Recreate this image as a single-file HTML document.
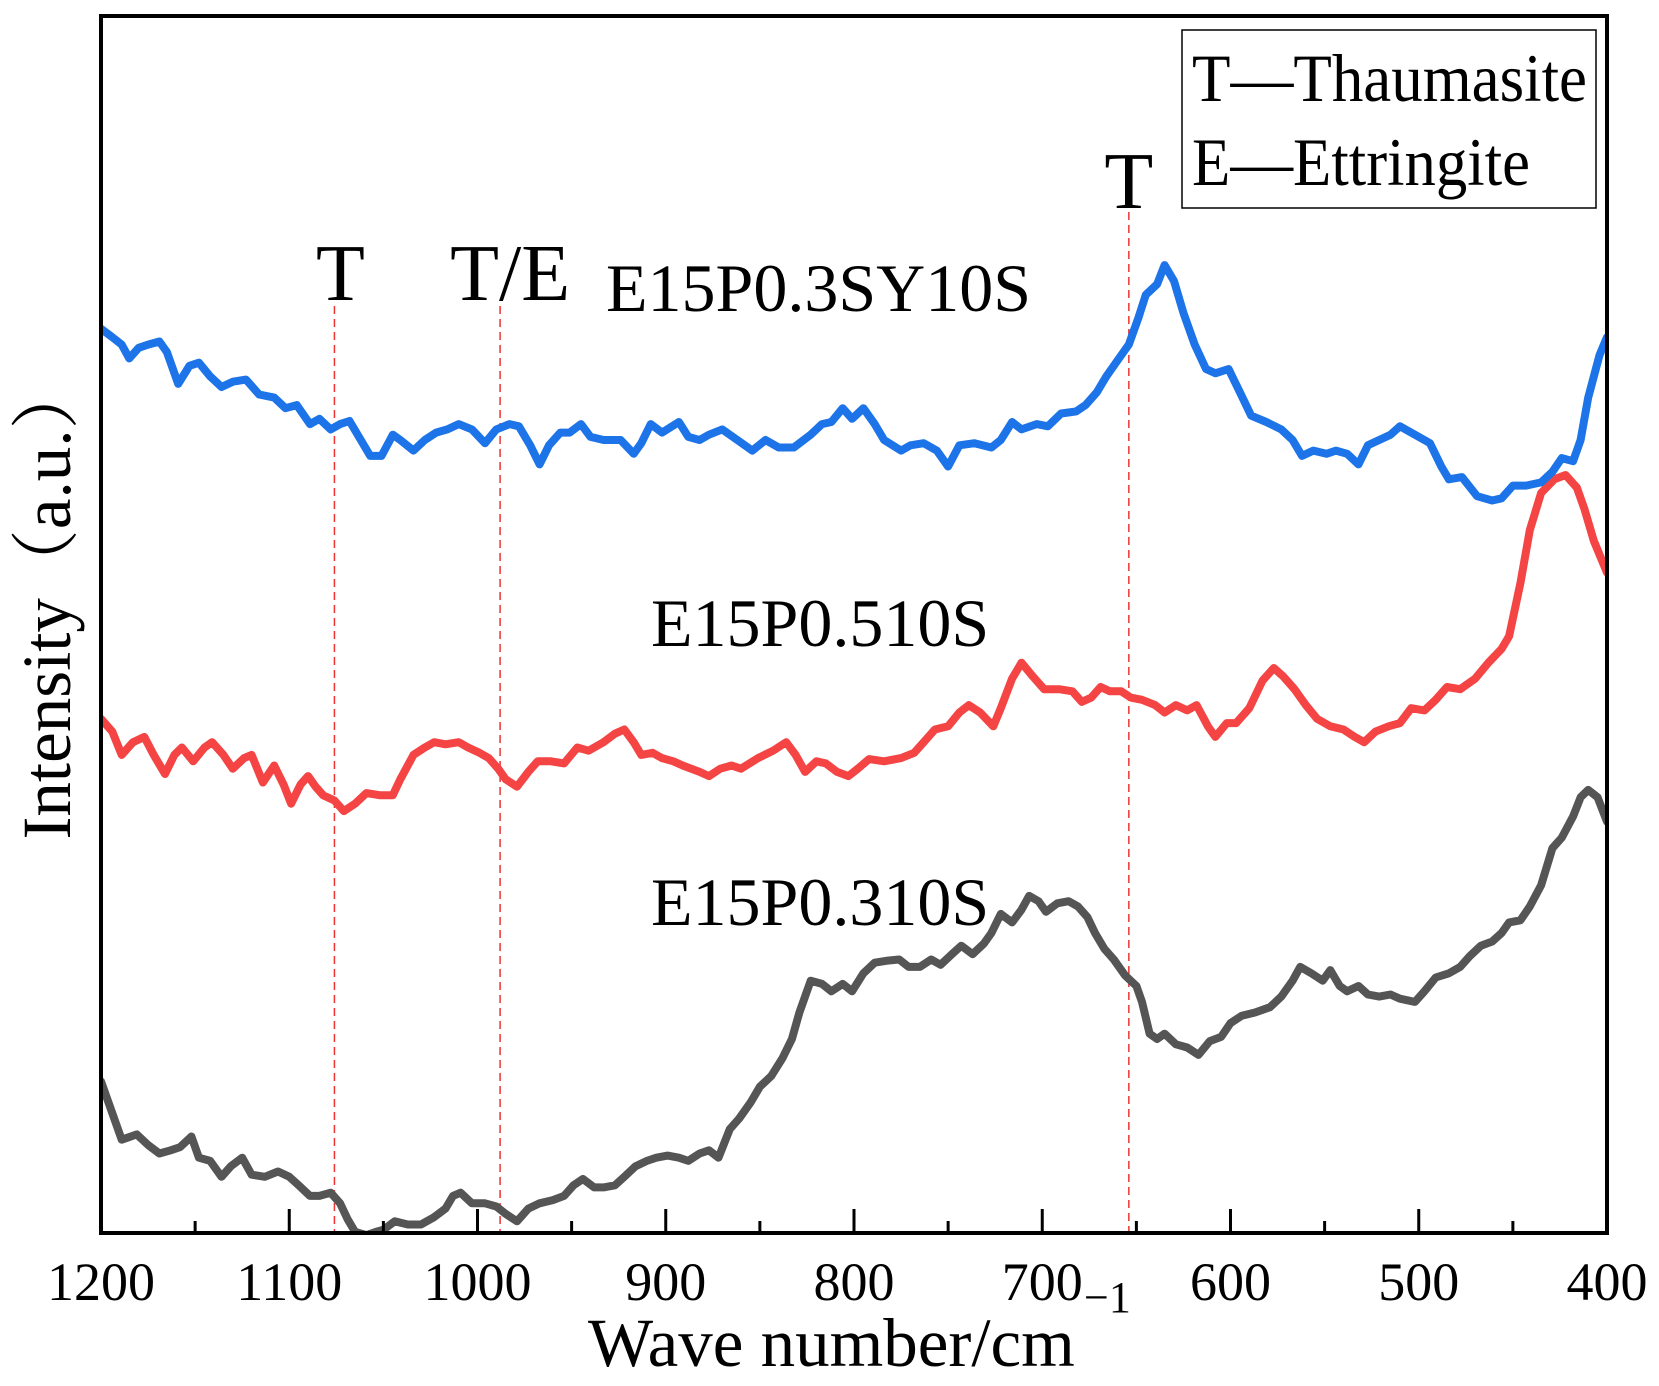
<!DOCTYPE html>
<html><head><meta charset="utf-8"><style>
html,body{margin:0;padding:0;background:#fff}
svg{display:block}
text{font-family:"Liberation Serif","Noto Serif CJK SC",serif;fill:#000}
</style></head><body>
<svg id="chart" width="1659" height="1386" viewBox="0 0 1659 1386">
<g id="plot"></g>
</svg>
<script>
const xTicks=[1200,1100,1000,900,800,700,600,500,400];
const xMinor=[1150,1050,950,850,750,650,550,450];
const markWn=[1076,988,654];
const markLbl=["T","T/E","T"];

const blueWn=[1200,1194,1189,1185,1180,1175,1169,1165,1159,1153,1148,1142,1136,1130,1123,1116,1108,1102,1096,1089,1084,1078,1073,1068,1062,1057,1051,1045,1041,1034,1028,1022,1016,1010,1003,996,990,983,978,972,967,962,956,951,945,940,933,924,917,913,908,902,893,888,882,877,870,862,854,847,840,832,823,817,812,806,801,795,789,784,775,770,763,756,750,744,736,727,722,716,711,703,697,690,682,677,671,666,660,654,649,645,639,635,630,625,619,613,608,601,595,589,581,573,567,562,556,549,544,538,532,527,521,515,510,502,494,488,484,477,469,461,456,450,443,435,429,424,418,414,410,404,400];
const blueI=[853,845,838,825,835,838,841,831,801,818,821,808,798,803,805,791,788,778,781,763,768,758,763,766,748,733,733,753,748,738,748,755,758,763,758,745,758,763,761,743,725,743,755,755,763,751,748,748,735,745,763,755,765,751,748,753,758,748,738,748,741,741,753,763,765,778,768,778,763,748,738,743,745,738,723,743,745,741,748,765,758,763,761,773,775,781,793,808,823,838,863,885,895,913,898,868,838,815,811,815,793,771,765,758,748,733,738,735,738,735,725,743,748,753,761,753,745,723,711,713,695,691,693,705,705,708,718,731,728,748,788,828,845];

const redWn=[1200,1194,1189,1183,1177,1172,1166,1161,1157,1151,1145,1141,1135,1130,1124,1120,1114,1108,1103,1099,1094,1090,1086,1082,1076,1071,1065,1059,1052,1045,1041,1034,1028,1023,1017,1010,1005,999,994,989,985,979,973,968,961,954,947,941,933,927,922,917,913,907,902,896,891,882,877,871,865,860,851,843,836,831,826,820,815,809,803,798,792,784,775,768,763,757,750,744,739,733,726,722,716,711,705,699,691,684,679,674,669,664,658,653,647,640,635,629,623,618,612,608,602,597,590,583,577,572,566,560,554,547,540,534,529,523,516,510,504,497,491,485,478,470,463,456,452,446,441,435,428,422,416,412,407,400];
const redI=[485,473,451,463,468,451,433,451,458,445,458,463,451,438,448,451,425,441,423,405,423,431,421,413,408,398,405,415,413,413,428,451,458,463,461,463,458,453,448,438,428,421,435,445,445,443,458,455,463,471,475,463,451,453,448,445,441,435,431,438,441,438,448,455,463,451,435,445,443,435,431,438,447,445,448,453,463,475,478,491,498,491,478,495,523,538,525,513,513,511,501,505,515,511,511,505,503,498,491,498,493,498,478,468,481,481,495,521,533,525,513,498,485,478,475,468,463,473,478,481,495,493,503,515,513,523,538,551,563,613,663,698,711,715,703,683,653,623];

const greyWn=[1200,1194,1189,1181,1175,1169,1163,1158,1152,1148,1142,1136,1131,1125,1120,1113,1106,1100,1095,1089,1084,1078,1073,1069,1065,1059,1054,1050,1044,1037,1030,1023,1017,1013,1009,1003,996,990,985,979,973,967,960,954,949,944,938,933,927,922,916,910,905,899,893,888,882,877,872,866,861,855,850,844,838,833,829,823,817,812,806,801,795,789,782,776,771,765,759,754,748,743,737,731,727,722,716,711,707,702,698,692,686,681,676,672,667,662,656,650,647,643,639,635,629,623,617,611,605,600,594,587,579,573,567,563,557,551,547,542,538,532,527,521,515,510,502,497,491,484,478,473,467,461,456,452,446,441,435,429,424,418,414,410,405,400];
const greyI=[143,113,88,93,83,75,78,81,91,71,68,53,63,71,55,53,58,53,45,35,35,38,28,13,1,-2,1,3,11,8,8,15,23,35,38,28,28,25,18,11,23,28,31,35,45,51,43,43,45,53,63,68,71,73,71,68,75,78,71,98,108,123,138,148,165,183,208,238,235,228,235,228,245,255,257,258,251,251,258,253,263,271,263,273,283,301,293,305,318,313,303,311,313,308,298,283,268,258,243,233,218,188,183,188,178,175,168,181,185,198,205,208,213,223,238,251,245,238,248,233,228,233,225,223,225,221,218,228,241,245,251,261,271,275,283,293,295,308,328,363,373,393,411,418,411,388];

const L=101,R=1607,T=16,B=1233;
const X=w=>L+(1200-w)*(R-L)/800;
const Y=v=>B-v*(B-T)/1148;
const NS="http://www.w3.org/2000/svg";
const g=document.getElementById('plot');
function mk(tag,attrs,parent){const e=document.createElementNS(NS,tag);for(const k in attrs)e.setAttribute(k,attrs[k]);(parent||g).appendChild(e);return e;}

const defs=mk('defs',{});
const cp=mk('clipPath',{id:'clip'},defs);
mk('rect',{x:L,y:T,width:R-L,height:B-T},cp);

const mTop=[306,306,212];
markWn.forEach((w,i)=>{
  const ln=mk('line',{x1:X(w),x2:X(w),y1:mTop[i],y2:B,stroke:'#e33',"stroke-width":1.5,"stroke-dasharray":"8,5"});
  
  
});
const mLblY=[300,300,208];
const mLblDx=[6,10,0];
markWn.forEach((w,i)=>{
  const t=mk('text',{x:X(w)+mLblDx[i],y:mLblY[i],"font-size":80,"text-anchor":"middle"});
  t.textContent=markLbl[i];
  
  
});

function series(wn,vals,color,name){
  const d=wn.map((w,i)=>(i?'L':'M')+X(w).toFixed(1)+','+Y(vals[i]).toFixed(1)).join('');
  const p=mk('path',{d:d,fill:'none',stroke:color,"stroke-width":8,"stroke-linejoin":"round","stroke-linecap":"round","clip-path":"url(#clip)"});
  
  
}
series(greyWn,greyI,'#555555','series-e15p0310s');
series(redWn,redI,'#f44444','series-e15p0510s');
series(blueWn,blueI,'#1c74e8','series-e15p03sy10s');

const fr=mk('rect',{x:L,y:T,width:R-L,height:B-T,fill:'none',stroke:'#000',"stroke-width":4});



xTicks.forEach(w=>{
  const tk=mk('line',{x1:X(w),x2:X(w),y1:B,y2:B-24,stroke:'#000',"stroke-width":3});
  
  
  const t=mk('text',{x:X(w),y:1300,"font-size":54,"text-anchor":"middle"});
  t.textContent=w;
  
  
});
xMinor.forEach(w=>{
  const tk=mk('line',{x1:X(w),x2:X(w),y1:B,y2:B-12,stroke:'#000',"stroke-width":3});
  
  
});
</script>
<script>
(function(){
const svg=document.getElementById('chart');
const NS="http://www.w3.org/2000/svg";
function t(x,y,size,txt,extra){const e=document.createElementNS(NS,'text');e.setAttribute('x',x);e.setAttribute('y',y);e.setAttribute('font-size',size);if(extra)for(const k in extra)e.setAttribute(k,extra[k]);e.textContent=txt;svg.appendChild(e);return e;}
let e;
e=t(606,311,68,'E15P0.3SY10S');


e=t(651,646,68,'E15P0.510S');


e=t(651,925,68,'E15P0.310S');


e=t(588,1366,69,'Wave number/cm');


e=t(1084,1312,44,'−1');


e=t(0,0,69,'Intensity（a.u.）',{transform:'translate(70,600) rotate(-90)','text-anchor':'middle'});


const box=document.createElementNS(NS,'rect');
box.setAttribute('x',1182);box.setAttribute('y',30);box.setAttribute('width',414);box.setAttribute('height',178);
box.setAttribute('fill','#fff');box.setAttribute('stroke','#000');box.setAttribute('stroke-width',1.5);


svg.appendChild(box);
e=t(1192,101,68,'T—Thaumasite',{textLength:395,lengthAdjust:'spacingAndGlyphs'});


e=t(1192,185,68,'E—Ettringite',{textLength:338,lengthAdjust:'spacingAndGlyphs'});


})();
</script>
</body></html>
